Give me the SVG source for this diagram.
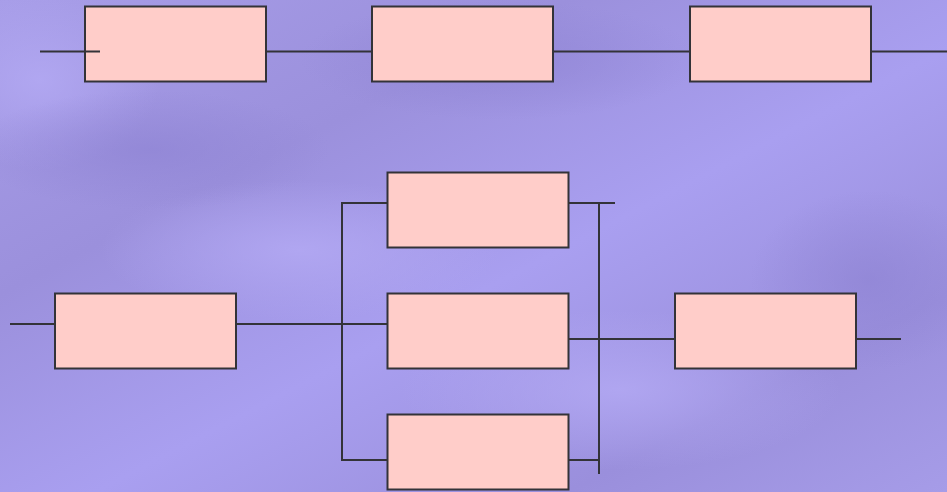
<svg xmlns="http://www.w3.org/2000/svg" width="947" height="492" viewBox="0 0 947 492">
<defs>
<linearGradient id="bg" x1="0" y1="0" x2="1" y2="1">
<stop offset="0" stop-color="#a79de8"/>
<stop offset="0.3" stop-color="#9b90dc"/>
<stop offset="0.55" stop-color="#a99ff0"/>
<stop offset="0.8" stop-color="#9a8fdc"/>
<stop offset="1" stop-color="#a69ce8"/>
</linearGradient>
<radialGradient id="hl1" cx="0.5" cy="0.5" r="0.5">
<stop offset="0" stop-color="#b4aaf4" stop-opacity="0.8"/>
<stop offset="1" stop-color="#b4aaf4" stop-opacity="0"/>
</radialGradient>
<radialGradient id="dk1" cx="0.5" cy="0.5" r="0.5">
<stop offset="0" stop-color="#8f84d4" stop-opacity="0.7"/>
<stop offset="1" stop-color="#8f84d4" stop-opacity="0"/>
</radialGradient>
</defs>
<style>
.box{fill:#ffcdc9;stroke:#333338;stroke-width:2}
.ln{stroke:#333338;stroke-width:2;fill:none}
</style>
<rect width="947" height="492" fill="url(#bg)"/>
<ellipse cx="40" cy="80" rx="120" ry="90" fill="url(#hl1)"/>
<ellipse cx="300" cy="250" rx="200" ry="70" fill="url(#hl1)"/>
<ellipse cx="620" cy="390" rx="220" ry="80" fill="url(#hl1)"/>
<ellipse cx="150" cy="150" rx="180" ry="60" fill="url(#dk1)"/>
<ellipse cx="870" cy="280" rx="120" ry="90" fill="url(#dk1)"/>
<ellipse cx="500" cy="60" rx="200" ry="60" fill="url(#dk1)"/>
<g id="n1"><rect class="box" x="85" y="6.5" width="181" height="75"/></g>
<g id="n2"><rect class="box" x="372" y="6.5" width="181" height="75"/></g>
<g id="n3"><rect class="box" x="690" y="6.5" width="181" height="75"/></g>
<g id="n4"><rect class="box" x="55" y="293.5" width="181" height="75"/></g>
<g id="n5"><rect class="box" x="387.5" y="172.5" width="181" height="75"/></g>
<g id="n6"><rect class="box" x="387.5" y="293.5" width="181" height="75"/></g>
<g id="n7"><rect class="box" x="387.5" y="414.5" width="181" height="75"/></g>
<g id="n8"><rect class="box" x="675" y="293.5" width="181" height="75"/></g>
<g id="connectors">
<line class="ln" x1="40" y1="51.5" x2="100" y2="51.5"/>
<line class="ln" x1="266" y1="51.5" x2="372" y2="51.5"/>
<line class="ln" x1="553" y1="51.5" x2="690" y2="51.5"/>
<line class="ln" x1="871" y1="51.5" x2="947" y2="51.5"/>
<line class="ln" x1="10" y1="324" x2="55" y2="324"/>
<line class="ln" x1="236" y1="324" x2="387" y2="324"/>
<polyline class="ln" points="387,203 342,203 342,460 387,460"/>
<line class="ln" x1="569" y1="203" x2="615" y2="203"/>
<line class="ln" x1="599" y1="203" x2="599" y2="474"/>
<line class="ln" x1="569" y1="460" x2="599" y2="460"/>
<line class="ln" x1="569" y1="339" x2="675" y2="339"/>
<line class="ln" x1="856" y1="339" x2="901" y2="339"/>
</g>
</svg>
